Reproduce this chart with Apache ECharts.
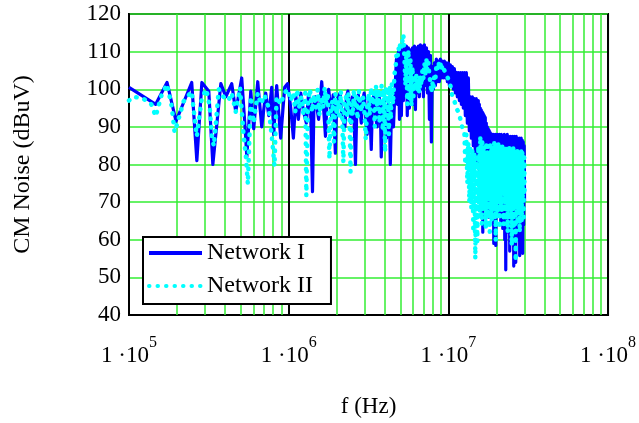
<!DOCTYPE html>
<html><head><meta charset="utf-8">
<script src="https://cdn.jsdelivr.net/npm/echarts@6/dist/echarts.min.js"></script>
<style>html,body{margin:0;padding:0;background:#fff}#c{width:639px;height:423px}</style>
</head><body><div id="c"></div>
<script>
// Network I (solid blue): [frequency Hz, dBuV]
const networkI = [
[1.0e5,100.5],[1.47e5,96],[1.73e5,101.8],[1.97e5,91.5],[2.47e5,101.8],[2.66e5,81],[2.86e5,101.8],[3.16e5,99.5],[3.35e5,80],[3.76e5,101.5],[4.04e5,98],[4.4e5,101.5],[4.66e5,94],[5.08e5,103],[5.31e5,91],[5.47e5,82],[5.79e5,99.5],[6.04e5,89.5],[6.4e5,102],[6.78e5,90],[7.18e5,99],[7.5e5,93],[7.83e5,100.5],[8.06e5,88],[8.41e5,101],[8.91e5,87],[9.44e5,100.5],[9.86e5,101.5],
[1.03e6,95],[1.07e6,87],[1.11e6,98],[1.15e6,92],[1.19e6,99],[1.24e6,94],[1.29e6,91],[1.33e6,98.5],[1.37e6,95.5],[1.41e6,72.8],[1.44e6,96],[1.47e6,98],[1.54e6,92],[1.61e6,102],[1.66e6,94],[1.70e6,87.5],[1.74e6,97],[1.78e6,100],[1.85e6,93],[1.90e6,98.5],[1.96e6,83],[2.0e6,97],[2.05e6,98],[2.1e6,99],[2.15e6,93],[2.25e6,90],[2.3e6,98],[2.35e6,99.5],[2.45e6,91],[2.5e6,98],[2.55e6,96],[2.62e6,80],[2.68e6,97],[2.73e6,98.5],[2.85e6,91],[2.9e6,97],[2.97e6,99],[3.05e6,92],[3.10e6,88],[3.19e6,97],[3.24e6,92],[3.29e6,84],[3.35e6,97],[3.44e6,99],[3.5e6,93],[3.58e6,90],[3.69e6,98],[3.75e6,95],[3.8e6,82],[3.9e6,96],[3.97e6,97],[4.05e6,90],[4.1e6,87],[4.2e6,96],[4.28e6,92],[4.33e6,80],[4.4e6,94],[4.46e6,96],[4.53e6,90],
[4.6e6,90],[4.68e6,104],[4.73e6,108],[4.8e6,96],[4.87e6,110],[4.94e6,92],[5.01e6,111],[5.08e6,93],[5.16e6,110.5],[5.23e6,97],[5.31e6,111],[5.38e6,99],[5.46e6,111.5],[5.53e6,93],[5.62e6,111],[5.7e6,95],[5.79e6,110.5],[5.87e6,99],[5.96e6,111],[6.04e6,96],[6.13e6,111.5],[6.22e6,94.6],[6.31e6,111],[6.4e6,99],[6.49e6,111.5],[6.58e6,98],[6.68e6,111.8],[6.78e6,100],[6.88e6,111.5],[6.98e6,98],[7.08e6,111.8],[7.18e6,101],[7.29e6,111],[7.4e6,99],[7.5e6,110],[7.61e6,92],[7.72e6,109],[7.83e6,86],[7.94e6,106],[8.06e6,100],[8.18e6,107],[8.3e6,101],[8.41e6,108],[8.54e6,102],[8.66e6,107.5],[8.78e6,102],[8.91e6,108],[9.04e6,103],[9.17e6,107.5],[9.3e6,103],[9.44e6,107.5],[9.58e6,103],[9.72e6,107],[9.86e6,102],[1.0e7,107],
[1.015e7,101],[1.029e7,106.5],[1.044e7,101],[1.059e7,106],[1.074e7,100],[1.09e7,105.5],[1.106e7,99],[1.122e7,104.5],[1.138e7,98],[1.155e7,104.4],[1.172e7,97],[1.189e7,104.4],[1.206e7,96],[1.223e7,104.4],[1.241e7,95],[1.259e7,104.4],[1.277e7,93],[1.296e7,104.4],[1.315e7,91],[1.334e7,103],[1.353e7,89],[1.373e7,98],[1.393e7,87],[1.413e7,98],[1.433e7,85],[1.454e7,97.5],[1.475e7,83],[1.496e7,97.5],[1.518e7,81],[1.54e7,97],
[1.552e7,80],[1.563e7,96],[1.574e7,78],[1.585e7,95],[1.597e7,74],[1.608e7,94.5],[1.62e7,72],[1.631e7,94],[1.643e7,62],[1.655e7,93.5],[1.667e7,75],[1.679e7,93],[1.691e7,70],[1.703e7,92.5],[1.716e7,73],[1.728e7,91],[1.74e7,68],[1.753e7,90],[1.766e7,72],[1.778e7,89.5],[1.791e7,66],[1.804e7,89],[1.817e7,71],[1.83e7,88.5],[1.843e7,69],[1.857e7,88],[1.87e7,72],[1.884e7,88],[1.898e7,66],[1.911e7,88],[1.925e7,59],[1.939e7,87.5],[1.953e7,70],[1.967e7,88],[1.981e7,58.5],[1.995e7,87.5],[2.01e7,68],[2.024e7,88],[2.039e7,72],[2.054e7,87.5],[2.069e7,67],[2.084e7,88],[2.098e7,70],[2.113e7,87.5],[2.129e7,65],[2.144e7,88],[2.16e7,69],[2.175e7,87],[2.191e7,63],[2.207e7,87.5],[2.223e7,68],[2.239e7,88],[2.255e7,60],[2.271e7,87.5],[2.288e7,52],[2.304e7,87],[2.321e7,64],[2.338e7,88],[2.354e7,67],[2.371e7,87.5],[2.388e7,62],[2.406e7,87],[2.423e7,57],[2.44e7,87.5],[2.458e7,66],[2.476e7,87],[2.494e7,61],[2.512e7,87.5],[2.53e7,70],[2.548e7,87],[2.567e7,53],[2.585e7,87.5],[2.604e7,66],[2.623e7,87],[2.642e7,54],[2.661e7,87.5],[2.68e7,64],[2.699e7,87],[2.718e7,60],[2.738e7,86.5],[2.758e7,68],[2.778e7,87],[2.798e7,55.8],[2.818e7,86.5],[2.838e7,63],[2.859e7,87],[2.879e7,58],[2.9e7,86.5],[2.921e7,56.4],[2.943e7,86],[2.964e7,64],[2.985e7,85],[3.0e7,70]
];

// Network II (dotted cyan): [frequency Hz, dBuV]
const networkII = [
[1.0e5,97],[1.07e5,98],[1.23e5,97.5],[1.38e5,96],[1.47e5,92.8],[1.6e5,98.5],[1.73e5,101.3],[1.85e5,95.5],[1.93e5,88.6],[2.0e5,90.7],[2.2e5,96.8],[2.47e5,99.4],[2.6e5,90.7],[2.66e5,87.5],[2.86e5,97.8],[3.05e5,100],[3.2e5,95.5],[3.3e5,87.5],[3.4e5,84.9],[3.65e5,100],[3.9e5,98],[4.2e5,97],[4.4e5,99],[4.66e5,94],[4.96e5,100.4],[5.2e5,88.6],[5.4e5,82],[5.55e5,74.8],[5.79e5,98],[6.04e5,91],[6.4e5,99],[6.7e5,96],[7.05e5,98.5],[7.5e5,95],[7.9e5,86],[8.15e5,79.6],[8.4e5,98],[8.9e5,96],[9.4e5,99],[9.86e5,100],
[1.03e6,97],[1.07e6,99],[1.1e6,94],[1.13e6,100],[1.16e6,95],[1.2e6,98],[1.24e6,93],[1.27e6,99],[1.29e6,71.7],[1.32e6,96],[1.36e6,100],[1.4e6,94],[1.44e6,98.5],[1.48e6,95],[1.52e6,100],[1.56e6,93],[1.6e6,98],[1.64e6,95],[1.68e6,100.5],[1.72e6,96],[1.76e6,99],[1.8e6,81.5],[1.84e6,94.5],[1.88e6,97],[1.92e6,86],[1.96e6,99],[2.0e6,93],[2.04e6,97],[2.08e6,92],[2.12e6,99.5],[2.16e6,94],[2.2e6,80.6],[2.24e6,97],[2.28e6,98],[2.32e6,93],[2.36e6,99],[2.4e6,95],[2.44e6,78],[2.48e6,97],[2.52e6,93],[2.56e6,100],[2.6e6,95],[2.65e6,98],[2.7e6,92],[2.75e6,99.5],[2.8e6,96],[2.86e6,94],[2.92e6,98],[2.98e6,94],[3.04e6,86.7],[3.1e6,95],[3.16e6,99],[3.22e6,93],[3.28e6,100.5],[3.34e6,96],[3.4e6,99],[3.46e6,90],[3.52e6,101],[3.58e6,95],[3.64e6,100],[3.7e6,91],[3.76e6,97],[3.82e6,101],[3.88e6,89],[3.94e6,100],[4.02e6,83.3],[4.06e6,101],[4.12e6,93],[4.18e6,100.5],[4.24e6,88],[4.3e6,101],[4.36e6,92],[4.42e6,101.5],[4.5e6,96],
[4.6e6,104],[4.68e6,106],[4.73e6,109],[4.8e6,108],[4.87e6,111],[4.94e6,110],[5.0e6,112.6],[5.08e6,111],[5.16e6,113],[5.23e6,114.5],[5.31e6,108],[5.38e6,101],[5.46e6,110],[5.53e6,96],[5.62e6,110.5],[5.7e6,97],[5.79e6,108],[5.87e6,95.5],[5.96e6,106],[6.04e6,98],[6.13e6,103],[6.22e6,100],[6.31e6,104],[6.4e6,100],[6.49e6,102],[6.58e6,99],[6.68e6,103.5],[6.78e6,101],[6.88e6,105],[6.98e6,103],[7.08e6,107],[7.18e6,104],[7.29e6,107.9],[7.4e6,105],[7.5e6,107],[7.61e6,103.4],[7.72e6,102],[7.83e6,99],[7.94e6,101.8],[8.06e6,100],[8.18e6,104],[8.3e6,103],[8.41e6,106],[8.54e6,105],[8.66e6,107.3],[8.78e6,106],[8.91e6,107],[9.04e6,105],[9.17e6,106.5],[9.44e6,105],[9.72e6,104],[1.0e7,102.6],[1.03e7,101],[1.06e7,98],[1.09e7,97],[1.12e7,95],[1.155e7,94],[1.19e7,92],[1.22e7,90],
[1.259e7,89],[1.277e7,80],[1.296e7,88],[1.315e7,75],[1.334e7,86],[1.353e7,70],[1.373e7,85],[1.393e7,68.3],[1.413e7,84],[1.433e7,62],[1.454e7,83],[1.475e7,55],[1.496e7,82],[1.518e7,59.5],[1.54e7,85],[1.552e7,70],[1.563e7,84],[1.574e7,66],[1.585e7,87.5],[1.597e7,68],[1.608e7,85],[1.62e7,64],[1.631e7,86],[1.643e7,70],[1.655e7,84],[1.667e7,68],[1.679e7,85],[1.691e7,72],[1.703e7,83],[1.716e7,63],[1.728e7,86],[1.74e7,69],[1.753e7,84],[1.766e7,67],[1.778e7,85],[1.791e7,71],[1.804e7,83],[1.817e7,62],[1.83e7,86],[1.843e7,70],[1.857e7,84],[1.87e7,65],[1.884e7,84],[1.898e7,72],[1.911e7,85],[1.925e7,68],[1.939e7,86],[1.953e7,66],[1.967e7,83],[1.981e7,59.8],[1.995e7,85],[2.01e7,70],[2.024e7,84],[2.039e7,66],[2.054e7,86],[2.069e7,71],[2.084e7,83],[2.098e7,63],[2.113e7,85],[2.129e7,69],[2.144e7,84],[2.16e7,67],[2.175e7,85.5],[2.191e7,72],[2.207e7,83],[2.223e7,64],[2.239e7,84],[2.255e7,70],[2.271e7,85],[2.288e7,66],[2.304e7,85],[2.321e7,71],[2.338e7,83],[2.354e7,62],[2.371e7,84],[2.388e7,69],[2.406e7,85],[2.423e7,66],[2.44e7,85],[2.458e7,70],[2.476e7,83],[2.494e7,58.5],[2.512e7,84],[2.53e7,68],[2.548e7,85],[2.567e7,63],[2.585e7,84],[2.604e7,70],[2.623e7,82],[2.642e7,54.3],[2.661e7,83],[2.68e7,67],[2.699e7,84],[2.718e7,64],[2.738e7,84],[2.758e7,70],[2.778e7,83],[2.798e7,62],[2.818e7,83],[2.838e7,68],[2.859e7,84],[2.879e7,65],[2.9e7,84],[2.921e7,70],[2.943e7,83],[2.964e7,66],[2.985e7,82],[3.0e7,72]
];

const seriesNames = ['Network I', 'Network II'];
const xDecadeExponents = [5, 6, 7, 8];
const minorGridFreqs = [2e5,3e5,4e5,5e5,6e5,7e5,8e5,9e5,2e6,3e6,4e6,5e6,6e6,7e6,8e6,9e6,2e7,3e7,4e7,5e7,6e7,7e7,8e7,9e7];
const yMin = 40, yMax = 120, yStep = 10;

const FONT = 'Liberation Serif';
const chart = echarts.init(document.getElementById('c'), null, {renderer: 'canvas'});
chart.setOption({
  animation: false,
  backgroundColor: '#fff',
  grid: {left: 129, right: 30, top: 14, bottom: 106, show: true, borderColor: '#000', borderWidth: 2, backgroundColor: '#fff'},
  legend: {
    data: seriesNames, orient: 'vertical', left: 143, top: 237,
    backgroundColor: '#fff', borderColor: '#000', borderWidth: 2, borderRadius: 0,
    padding: [4, 18, 6, 4], itemWidth: 53, itemHeight: 20, itemGap: 9,
    itemStyle: {opacity: 0},
    lineStyle: {width: 4},
    textStyle: {fontFamily: FONT, fontSize: 24, color: '#000', lineHeight: 24}
  },
  xAxis: {
    type: 'log', logBase: 10, min: 1e5, max: 1e8, splitNumber: 3,
    axisLine: {show: true, lineStyle: {color: '#000', width: 2}},
    axisTick: {show: false},
    splitLine: {show: true, lineStyle: {color: '#000', width: 2}},
    axisLabel: {
      margin: 20,
      formatter: function (v) {
        const e = Math.round(Math.log10(v));
        return xDecadeExponents.indexOf(e) >= 0 ? '{a|1 ·10}{b|' + e + '}' : '';
      },
      rich: {
        a: {fontFamily: FONT, fontSize: 23, color: '#000', lineHeight: 23, verticalAlign: 'bottom'},
        b: {fontFamily: FONT, fontSize: 16, color: '#000', lineHeight: 32, verticalAlign: 'top'}
      }
    },
    name: 'f (Hz)', nameLocation: 'middle', nameGap: 80,
    nameTextStyle: {fontFamily: FONT, fontSize: 23, color: '#000'}
  },
  yAxis: {
    type: 'value', min: yMin, max: yMax, interval: yStep,
    axisLine: {show: true, lineStyle: {color: '#000', width: 2}},
    axisTick: {show: false},
    splitLine: {show: true, lineStyle: {color: '#33ee33', width: 1.5}},
    axisLabel: {fontFamily: FONT, fontSize: 23, color: '#000', margin: 8, padding: [9, 0, 0, 0]},
    name: 'CM Noise (dBuV)', nameLocation: 'middle', nameGap: 94,
    nameTextStyle: {fontFamily: FONT, fontSize: 24, color: '#000'}
  },
  series: [
    {
      type: 'line', name: 'grid', data: [], silent: true, z: 1,
      markLine: {
        silent: true, symbol: 'none', z: 1, animation: false,
        label: {show: false},
        lineStyle: {color: '#33ee33', width: 1.5, type: 'solid'},
        data: minorGridFreqs.map(f => ({xAxis: f}))
      }
    },
    {
      type: 'line', name: seriesNames[0], data: networkI, symbol: 'none', showSymbol: false, z: 3,
      lineStyle: {color: '#0000ff', width: 3.2, join: 'round'},
      itemStyle: {color: '#0000ff'}
    },
    {
      type: 'line', name: seriesNames[1], data: networkII, symbol: 'none', showSymbol: false, z: 4,
      lineStyle: {color: '#00ffff', width: 4.5, type: [0.5, 8], cap: 'round', join: 'round'},
      itemStyle: {color: '#00ffff'}
    }
  ]
});
</script>
</body></html>
